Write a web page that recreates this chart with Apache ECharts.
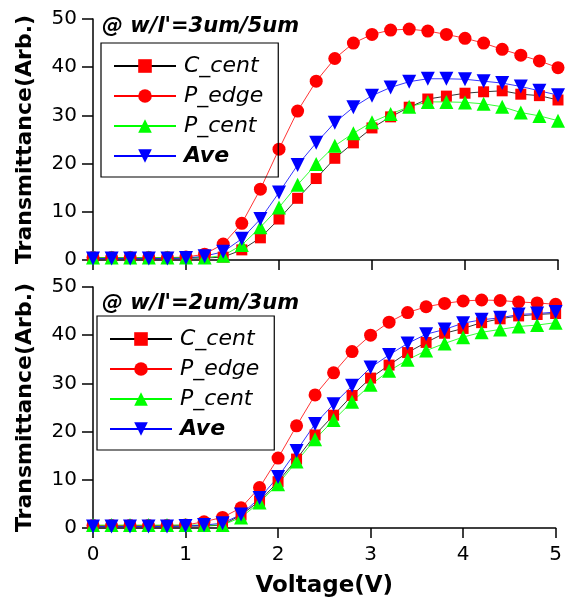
<!DOCTYPE html>
<html>
<head>
<meta charset="utf-8">
<script src="https://cdn.jsdelivr.net/npm/echarts@6/dist/echarts.min.js"></script>
<style>
  html, body { margin: 0; padding: 0; background: #fff; }
  #chart { width: 565px; height: 600px; }
</style>
</head>
<body>
<div id="chart"></div>
<script>
// voltage steps 0 .. 5 V
const voltage = [0, 0.2, 0.4, 0.6, 0.8, 1.0, 1.2, 1.4, 1.6, 1.8, 2.0, 2.2, 2.4, 2.6, 2.8, 3.0, 3.2, 3.4, 3.6, 3.8, 4.0, 4.2, 4.4, 4.6, 4.8, 5.0]
const xTicks = [0, 1, 2, 3, 4, 5]
const yTicks = [0, 10, 20, 30, 40, 50]

// w/l' = 3um/5um (top)
const topCCent = [0.4, 0.4, 0.4, 0.4, 0.4, 0.4, 0.4, 0.6, 2.1, 4.6, 8.5, 12.8, 16.9, 21.1, 24.3, 27.4, 29.7, 31.7, 33.4, 34.0, 34.6, 34.9, 35.1, 34.4, 34.1, 33.2]
const topPEdge = [0.5, 0.5, 0.5, 0.5, 0.5, 0.6, 1.2, 3.3, 7.6, 14.7, 23.0, 30.9, 37.1, 41.8, 45.0, 46.8, 47.7, 47.9, 47.5, 46.8, 46.0, 45.0, 43.7, 42.5, 41.3, 39.9]
const topPCent = [0.5, 0.5, 0.5, 0.5, 0.5, 0.5, 0.5, 0.9, 3.1, 6.8, 10.9, 15.6, 19.9, 23.7, 26.3, 28.6, 30.3, 31.8, 32.8, 32.8, 32.7, 32.4, 31.8, 30.6, 29.9, 28.9]
const topAve = [0.3, 0.3, 0.3, 0.3, 0.3, 0.4, 0.8, 1.7, 4.4, 8.5, 14.0, 19.7, 24.3, 28.5, 31.7, 34.1, 35.8, 37.0, 37.6, 37.6, 37.5, 37.1, 36.7, 36.0, 35.1, 34.2]

// w/l' = 2um/3um (bottom)
const botCCent = [0.4, 0.4, 0.4, 0.4, 0.4, 0.4, 0.4, 0.6, 2.7, 5.6, 9.6, 14.3, 19.3, 23.4, 27.5, 31.1, 33.8, 36.4, 38.5, 40.4, 41.4, 42.6, 43.4, 44.0, 44.3, 44.5]
const botPEdge = [0.5, 0.5, 0.5, 0.5, 0.5, 0.6, 1.3, 2.2, 4.2, 8.4, 14.5, 21.2, 27.6, 32.2, 36.6, 40.0, 42.7, 44.7, 45.9, 46.6, 47.1, 47.3, 47.2, 46.9, 46.7, 46.4]
const botPCent = [0.6, 0.6, 0.6, 0.6, 0.6, 0.6, 0.6, 0.6, 2.2, 5.3, 9.1, 13.8, 18.4, 22.4, 26.2, 29.7, 32.6, 34.9, 36.8, 38.3, 39.6, 40.6, 41.2, 41.8, 42.1, 42.6]
const botAve = [0.3, 0.3, 0.3, 0.3, 0.3, 0.4, 0.6, 1.0, 2.8, 6.2, 10.6, 16.0, 21.6, 25.7, 29.5, 33.3, 35.9, 38.3, 40.2, 41.2, 42.5, 43.2, 43.6, 44.3, 44.5, 44.8]

const names = ['C_cent', 'P_edge', 'P_cent', 'Ave']
const titles = ["@ w/l'=3um/5um", "@ w/l'=2um/3um"]

const myChart = echarts.init(document.getElementById('chart'))

const FONT = 'DejaVu Sans, Liberation Sans, sans-serif'

function pairs (vals) {
  return voltage.map((v, i) => [v, vals[i]])
}

// style per curve: marker, marker colour, line colour
const styles = [
  { symbol: 'rect', size: 11, rotate: 0, color: '#ff0000', line: '#000000' },
  { symbol: 'circle', size: 13, rotate: 0, color: '#ff0000', line: '#ff0000' },
  { symbol: 'triangle', size: 14, rotate: 0, color: '#00ff00', line: '#00ff00' },
  { symbol: 'triangle', size: 14, rotate: 180, color: '#0000ff', line: '#0000ff' }
]

function makeSeries (idx, sets) {
  return sets.map((vals, k) => {
    const s = styles[k]
    return {
      name: names[k],
      type: 'line',
      xAxisIndex: idx,
      yAxisIndex: idx,
      data: pairs(vals),
      symbol: s.symbol,
      symbolSize: s.size,
      symbolRotate: s.rotate,
      showAllSymbol: true,
      animation: false,
      lineStyle: { color: s.line, width: 0.8 },
      itemStyle: { color: s.color, borderWidth: 0 }
    }
  })
}

function makeX (idx, showLabel) {
  return {
    type: 'value',
    gridIndex: idx,
    min: xTicks[0],
    max: xTicks[xTicks.length - 1],
    interval: 1,
    axisLine: { show: true, onZero: false, lineStyle: { color: '#000', width: 1.5 } },
    axisTick: { show: true, inside: false, length: 10, lineStyle: { color: '#000', width: 1.5 } },
    axisLabel: { show: showLabel, color: '#000', fontSize: 20, fontFamily: FONT, margin: 17 },
    splitLine: { show: false },
    name: showLabel ? 'Voltage(V)' : '',
    nameLocation: 'middle',
    nameGap: 47,
    nameTextStyle: { color: '#000', fontSize: 23, fontWeight: 'bold', fontFamily: FONT }
  }
}

function makeY (idx) {
  return {
    type: 'value',
    gridIndex: idx,
    min: yTicks[0],
    max: yTicks[yTicks.length - 1],
    interval: 10,
    axisLine: { show: true, lineStyle: { color: '#000', width: 1.5 } },
    axisTick: { show: true, inside: false, length: 11, lineStyle: { color: '#000', width: 1.5 } },
    axisLabel: { color: '#000', fontSize: 20, fontFamily: FONT, margin: 16 },
    splitLine: { show: false },
    name: 'Transmittance(Arb.)',
    nameLocation: 'middle',
    nameGap: 57,
    nameTextStyle: { color: '#000', fontSize: 22, fontWeight: 'bold', fontFamily: FONT }
  }
}

function legendData () {
  return names.map((n, k) => ({
    name: n,
    textStyle: {
      fontStyle: 'italic',
      fontWeight: k === 3 ? 'bold' : 'normal',
      fontSize: 22,
      lineHeight: 22,
      fontFamily: FONT,
      color: '#000',
      padding: [0, 0, 0, 3]
    }
  }))
}

function makeLegend (left, top) {
  return {
    data: legendData(),
    orient: 'vertical',
    left: left,
    top: top,
    padding: [12, 15, 10, 12],
    itemWidth: 62,
    itemHeight: 17,
    itemGap: 8,
    borderColor: '#000',
    borderWidth: 1.2,
    selectedMode: false
  }
}

const titleStyle = { fontSize: 21, fontWeight: 'bold', fontStyle: 'italic', fontFamily: FONT, color: '#000' }

const option = {
  backgroundColor: '#fff',
  animation: false,
  title: [
    { text: titles[0], left: 97, top: 11, textStyle: titleStyle },
    { text: titles[1], left: 97, top: 288, textStyle: titleStyle }
  ],
  legend: [makeLegend(101, 43), makeLegend(97, 316)],
  grid: [
    { left: 93, top: 19, width: 465, height: 241 },
    { left: 93, top: 287, width: 465, height: 241 }
  ],
  xAxis: [makeX(0, false), makeX(1, true)],
  yAxis: [makeY(0), makeY(1)],
  series: makeSeries(0, [topCCent, topPEdge, topPCent, topAve])
    .concat(makeSeries(1, [botCCent, botPEdge, botPCent, botAve]))
}

myChart.setOption(option)
</script>
</body>
</html>
